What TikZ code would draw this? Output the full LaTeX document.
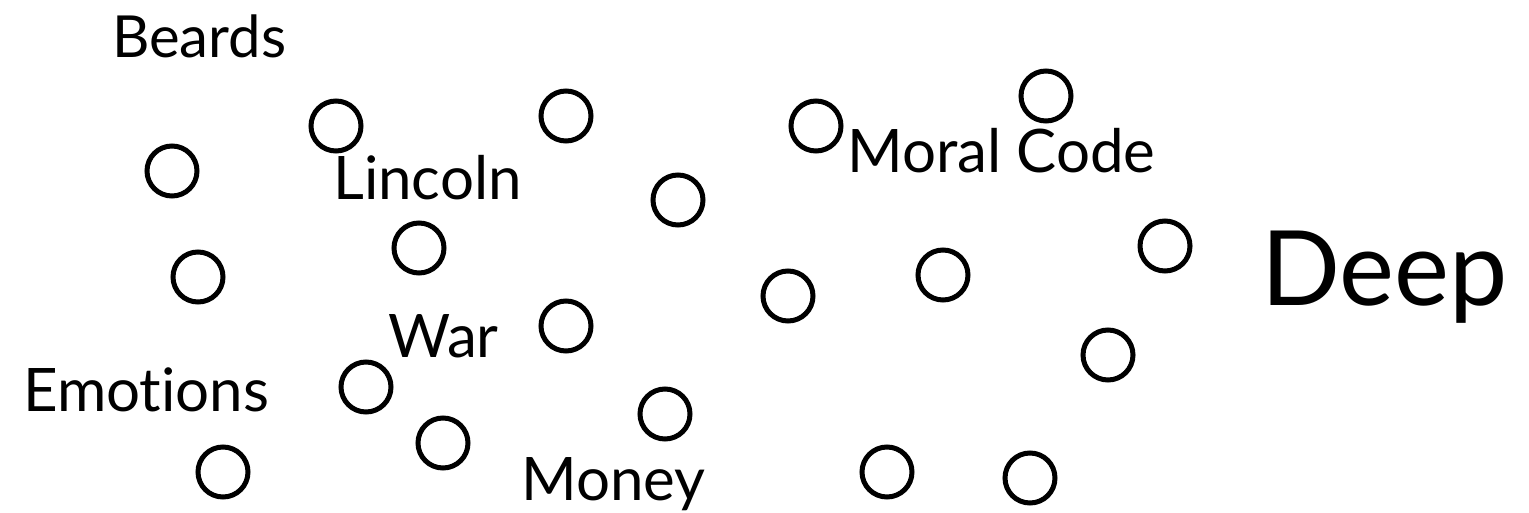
\documentclass[tikz,border=0pt]{standalone}
\usepackage{fontspec}
\setmainfont{Lato}[Ligatures=NoCommon]
\usetikzlibrary{positioning}

\begin{document}
\begin{tikzpicture}[x=1pt,y=1pt,
  ring/.style={draw,circle,line width=5pt,minimum size=50pt,inner sep=0pt},
  word/.style={anchor=base west,inner sep=0pt,font=\fontsize{60}{70}\selectfont},
  bigword/.style={anchor=base west,inner sep=0pt,font=\fontsize{104}{120}\selectfont}]
  \useasboundingbox (0,0) rectangle (1529,512);
  % rings, scattered
  \foreach \cx/\cy [count=\i] in {172/341, 336/386, 566/396, 816/386, 1046/416,
      678/312, 419/264, 198/235, 1165/266, 943/237, 788/216, 566/186,
      1108/157, 366/125, 665/98, 443/69, 223/40, 887/40, 1030/34}
    \node[ring] (r\i) at (\cx,\cy) {};
  % labels
  \node[word,font=\fontsize{58}{66}\selectfont] (beards) at (112,454) {Beards};
  \node[word] (lincoln) at (333,312) {Lincoln};
  \node[word] (moral) at (847,339) {Moral Code};
  \node[word] (war) at (388,154) {War};
  \node[word] (emotions) at (23,101) {Emotions};
  \node[word] (money) at (521,12) {Money};
  \node[bigword] (deep) at (1261,207) {Deep};
\end{tikzpicture}
\end{document}
